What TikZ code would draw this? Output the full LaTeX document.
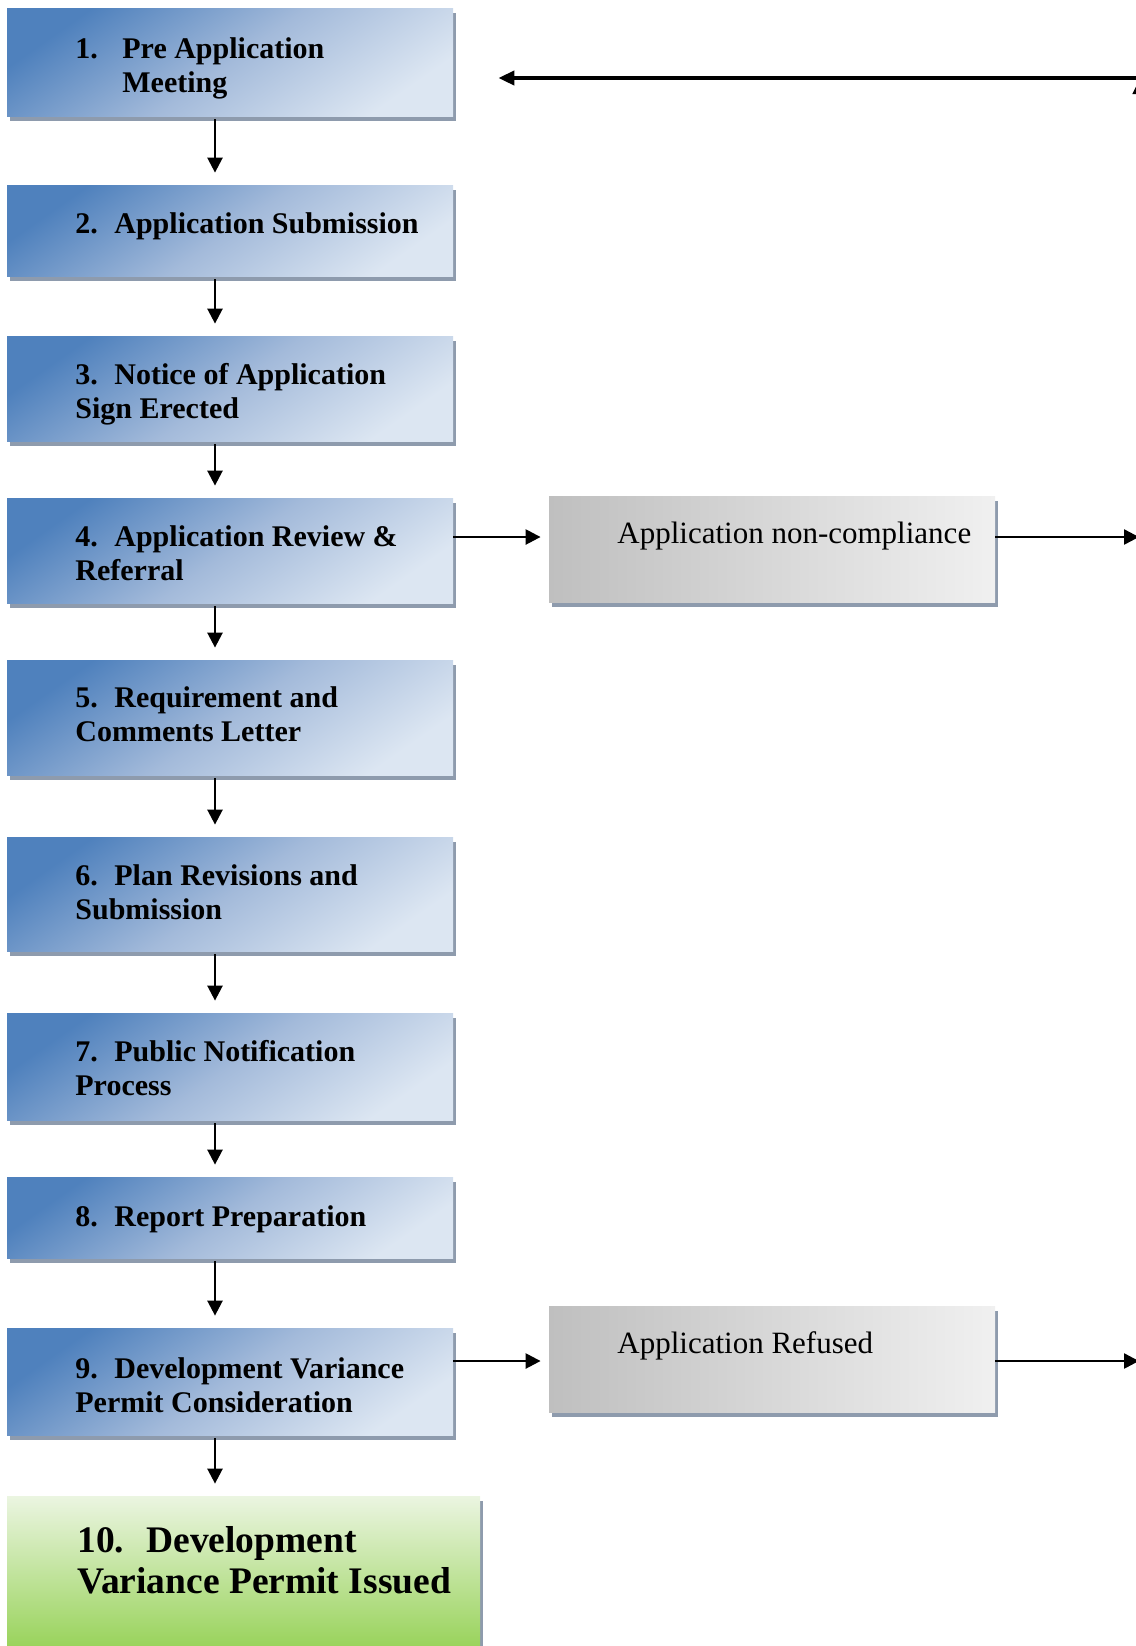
\documentclass[tikz,border=0pt]{standalone}
\usepackage{fontspec}
\setmainfont{Liberation Serif}
\usetikzlibrary{arrows.meta,shadows}

\definecolor{stepdark}{HTML}{4F81BD}
\definecolor{stepmid}{HTML}{A3BADA}
\definecolor{steplight}{HTML}{DCE6F2}
\definecolor{shadowgrey}{HTML}{8E9BAD}
\definecolor{sidedark}{HTML}{BFBFBF}
\definecolor{sidelight}{HTML}{F0F0F0}
\definecolor{donelight}{HTML}{EBF5E1}
\definecolor{donedark}{HTML}{92D050}

\newcommand{\stepno}[1]{\makebox[19.5pt][l]{#1}}

\tikzset{
  boxshadow/.style={general shadow={fill=shadowgrey, shadow xshift=1.5pt, shadow yshift=-2.5pt}},
  stepbox/.style={boxshadow, top color=stepdark, bottom color=steplight, middle color=stepmid, shading angle=35, minimum width=223pt, inner sep=0pt},
  sidebox/.style={boxshadow, left color=sidedark, right color=sidelight, minimum width=223pt, minimum height=53pt, inner sep=0pt},
  donebox/.style={boxshadow, top color=donelight, bottom color=donedark, minimum width=236.5pt, inner sep=0pt},
  steptext/.style={anchor=base west, align=left, inner sep=0pt, font=\fontsize{15pt}{17pt}\selectfont\bfseries},
  sidetext/.style={anchor=base west, inner sep=0pt, font=\fontsize{15.5pt}{18pt}\selectfont},
  donetext/.style={anchor=base west, align=left, inner sep=0pt, font=\fontsize{18.75pt}{20.5pt}\selectfont\bfseries},
  flow/.style={line width=1.25pt, -{Triangle[length=7.5pt,width=7.5pt]}, shorten >=6pt, shorten <=1.5pt},
  backflow/.style={line width=2pt, -{Triangle[length=8pt,width=7pt]}}
}

\begin{document}
\begin{tikzpicture}[x=0.5pt, y=-0.5pt]
  \useasboundingbox (0,0) rectangle (1136,1646);
  \clip (0,0) rectangle (1136,1646);

  % steps 1 to 10
  \node[stepbox, minimum height=54pt] (s1) at (230,62) {};
  \node[stepbox, minimum height=45.5pt] (s2) at (230,230.5) {};
  \node[stepbox, minimum height=52.5pt] (s3) at (230,388.5) {};
  \node[stepbox, minimum height=52.5pt] (s4) at (230,550.5) {};
  \node[stepbox, minimum height=57.5pt] (s5) at (230,717.5) {};
  \node[stepbox, minimum height=57pt] (s6) at (230,894) {};
  \node[stepbox, minimum height=53.5pt] (s7) at (230,1066.5) {};
  \node[stepbox, minimum height=40.5pt] (s8) at (230,1217.5) {};
  \node[stepbox, minimum height=53.5pt] (s9) at (230,1381.5) {};
  \node[donebox, minimum height=82pt] (s10) at (243.5,1578) {};

  % multi-line text sits on its last baseline
  \node[steptext] (t1) at (75,92) {\makebox[23.5pt][l]{1.}Pre Application\\\hspace*{23.5pt}Meeting};
  \node[steptext] (t2) at (75,233) {\stepno{2.}Application Submission};
  \node[steptext] (t3) at (75,418) {\stepno{3.}Notice of Application\\Sign Erected};
  \node[steptext] (t4) at (75,580) {\stepno{4.}Application Review \&\\Referral};
  \node[steptext] (t5) at (75,741) {\stepno{5.}Requirement and\\Comments Letter};
  \node[steptext] (t6) at (75,919) {\stepno{6.}Plan Revisions and\\Submission};
  \node[steptext] (t7) at (75,1095) {\stepno{7.}Public Notification\\Process};
  \node[steptext] (t8) at (75,1226) {\stepno{8.}Report Preparation};
  \node[steptext] (t9) at (75,1412) {\stepno{9.}Development Variance\\Permit Consideration};
  \node[donetext] (t10) at (77,1593) {\makebox[34.5pt][l]{10.}Development\\Variance Permit Issued};

  % side outcomes
  \node[sidebox] (r1) at (772,549) {};
  \node[sidebox] (r2) at (772,1359) {};
  \node[sidetext] (u1) at (617,543) {Application non-compliance};
  \node[sidetext] (u2) at (617,1353) {Application Refused};

  \coordinate (out1) at (1139,537);
  \coordinate (out2) at (1139,1361);
  \coordinate (back) at (1180,78);
  \coordinate (up) at (1140,300);

  \draw[flow] ([xshift=-7.5pt]s1.south) -- ([xshift=-7.5pt]s1.south |- s2.north);
  \draw[flow] ([xshift=-7.5pt]s2.south) -- ([xshift=-7.5pt]s2.south |- s3.north);
  \draw[flow] ([xshift=-7.5pt]s3.south) -- ([xshift=-7.5pt]s3.south |- s4.north);
  \draw[flow] ([xshift=-7.5pt]s4.south) -- ([xshift=-7.5pt]s4.south |- s5.north);
  \draw[flow] ([xshift=-7.5pt]s5.south) -- ([xshift=-7.5pt]s5.south |- s6.north);
  \draw[flow] ([xshift=-7.5pt]s6.south) -- ([xshift=-7.5pt]s6.south |- s7.north);
  \draw[flow] ([xshift=-7.5pt]s7.south) -- ([xshift=-7.5pt]s7.south |- s8.north);
  \draw[flow] ([xshift=-7.5pt]s8.south) -- ([xshift=-7.5pt]s8.south |- s9.north);
  \draw[flow] ([xshift=-7.5pt]s9.south) -- ([xshift=-7.5pt]s9.south |- s10.north);

  \draw[flow, shorten >=4pt, shorten <=0pt] (out1 -| s4.east) -- (out1 -| r1.west);
  \draw[flow, shorten >=0pt, shorten <=0pt] (out1 -| r1.east) -- (out1);
  \draw[flow, shorten >=4pt, shorten <=0pt] (out2 -| s9.east) -- (out2 -| r2.west);
  \draw[flow, shorten >=0pt, shorten <=0pt] (out2 -| r2.east) -- (out2);

  % back to step 1
  \draw[backflow, shorten >=22.5pt] (back) -- (back -| s1.east);
  \draw[backflow] (up) -- (up |- back);
\end{tikzpicture}
\end{document}
